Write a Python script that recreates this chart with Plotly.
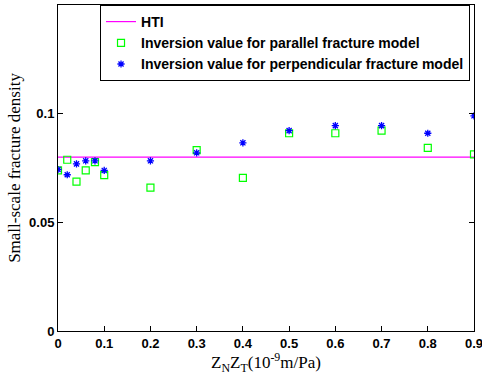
import plotly.graph_objects as go

x_vals = [0, 0.02, 0.04, 0.06, 0.08, 0.1, 0.2, 0.3, 0.4, 0.5, 0.6, 0.7, 0.8, 0.9]
parallel = [0.0739, 0.0788, 0.0687, 0.0739, 0.0777, 0.0717, 0.066, 0.0832, 0.0705, 0.091, 0.091, 0.0922, 0.0843, 0.0813]
perpendicular = [0.0743, 0.0719, 0.0769, 0.0783, 0.0783, 0.0739, 0.0783, 0.082, 0.0866, 0.0922, 0.0945, 0.0945, 0.091, 0.099]
hti_x = [0, 0.9]
hti_y = [0.08, 0.08]

x_ticks = [0, 0.1, 0.2, 0.3, 0.4, 0.5, 0.6, 0.7, 0.8, 0.9]
x_tick_text = ["0", "0.1", "0.2", "0.3", "0.4", "0.5", "0.6", "0.7", "0.8", "0.9"]
y_ticks = [0, 0.05, 0.1]
y_tick_text = ["0", "0.05", "0.1"]

fig = go.Figure()
fig.add_trace(go.Scatter(x=hti_x, y=hti_y, mode="lines", name="HTI",
                         line=dict(color="#ff00ff", width=1.2)))
fig.add_trace(go.Scatter(x=x_vals, y=parallel, mode="markers",
                         name="Inversion value for parallel fracture model",
                         marker=dict(symbol="square-open", color="#00ff00", size=7,
                                     line=dict(width=1.2, color="#00ff00"))))
fig.add_trace(go.Scatter(x=x_vals, y=perpendicular, mode="markers",
                         name="Inversion value for perpendicular fracture model",
                         marker=dict(symbol="asterisk-open", color="#0000ff", size=6,
                                     line=dict(width=1.3, color="#0000ff"))))

axis_common = dict(showline=True, linecolor="black", linewidth=1, mirror="ticks",
                   ticks="inside", ticklen=5, tickcolor="black", showgrid=False, zeroline=False,
                   ticklabeloverflow="allow", automargin=False,
                   tickfont=dict(family="Liberation Sans", size=13, color="black", weight="bold"))

fig.update_xaxes(range=[0, 0.9], tickvals=x_ticks, ticktext=x_tick_text,
                 title=dict(text="Z<sub>N</sub>Z<sub>T</sub>(10<sup>-9</sup>m/Pa)",
                            font=dict(family="Liberation Serif", size=17, color="black"),
                            standoff=0),
                 **axis_common)
fig.update_yaxes(range=[0, 0.15], tickvals=y_ticks, ticktext=y_tick_text,
                 title=dict(text="Small-scale fracture density",
                            font=dict(family="Liberation Serif", size=17, color="black"),
                            standoff=4),
                 **axis_common)

fig.update_layout(
    width=482, height=375,
    margin=dict(l=58, r=8, t=5, b=44, autoexpand=False),
    paper_bgcolor="white", plot_bgcolor="white",
    showlegend=True,
    legend=dict(x=0.101, y=1.0, xanchor="left", yanchor="top",
                bgcolor="white", bordercolor="black", borderwidth=1,
                font=dict(family="Liberation Sans", size=14, color="black", weight="bold"),
                tracegroupgap=0, itemwidth=30),
)

fig.write_html("out.html")
